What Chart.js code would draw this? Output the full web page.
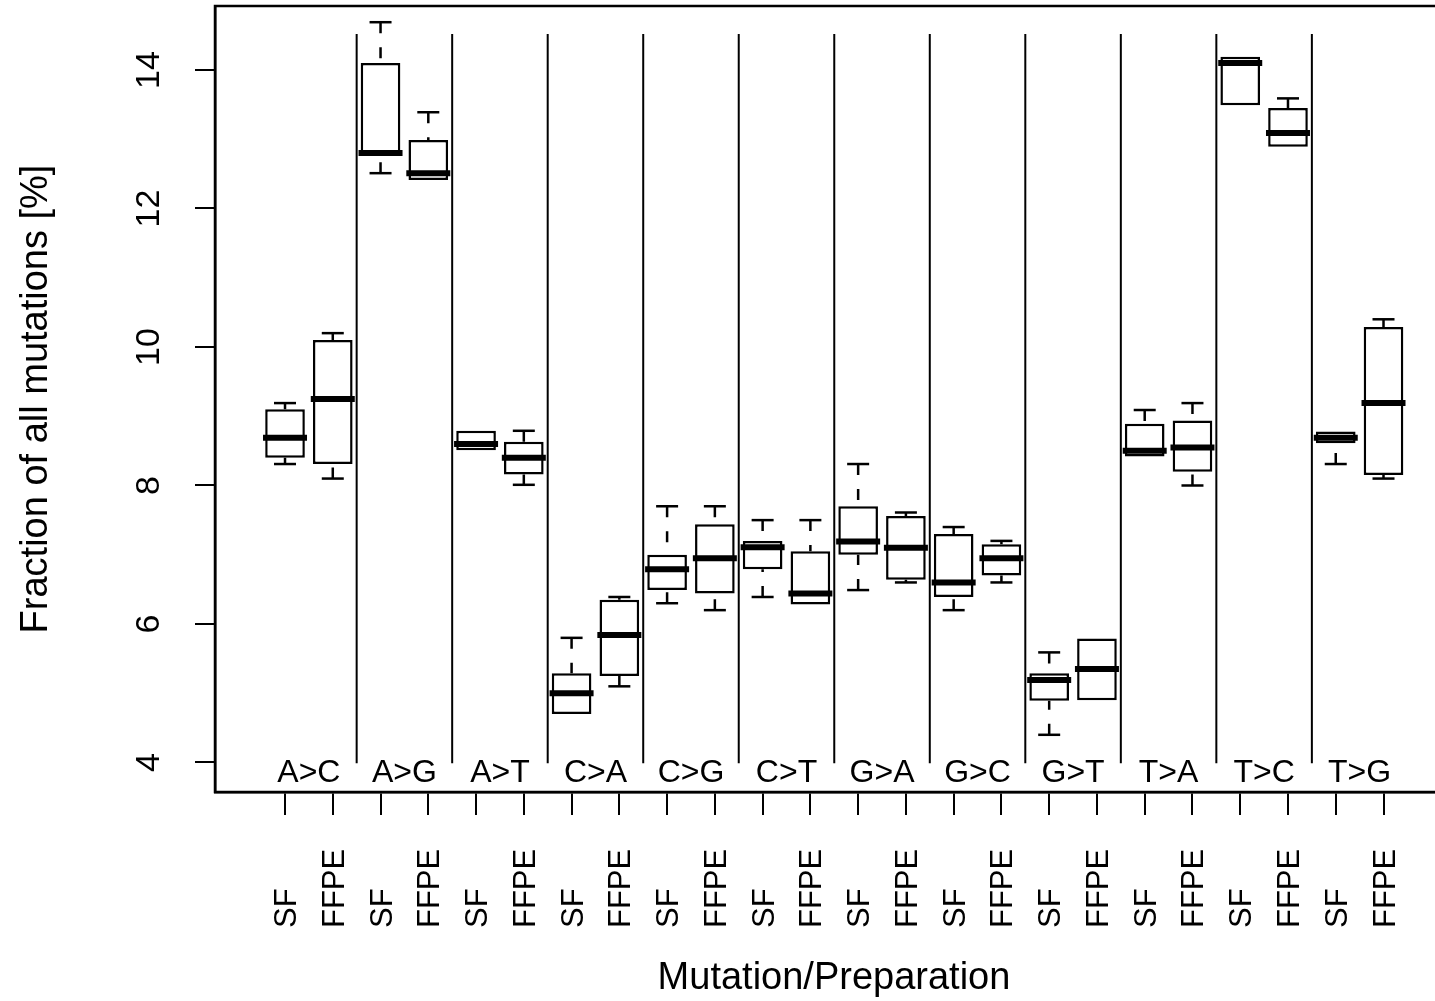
<!DOCTYPE html>
<html>
<head>
<meta charset="utf-8">
<title>Mutation fractions by preparation</title>
<script src="https://cdn.jsdelivr.net/npm/chart.js@4/dist/chart.umd.min.js"></script>
<style>
  html, body { margin: 0; padding: 0; background: #fff; overflow: hidden; }
  canvas { display: block; }
</style>
</head>
<body>
<canvas id="boxChart" width="1453" height="1001"></canvas>
<script>
// categories and tick labels
const mutations = ["A>C", "A>G", "A>T", "C>A", "C>G", "C>T", "G>A", "G>C", "G>T", "T>A", "T>C", "T>G"];
const preparations = ["SF", "FFPE"];
const yTicks = [4, 6, 8, 10, 12, 14];

// SF (fresh frozen) box stats
const sfMin = [8.31, 12.51, 8.51, 4.70, 6.30, 6.39, 6.49, 6.20, 4.40, 8.42, 13.49, 8.31];
const sfQ1  = [8.40, 12.80, 8.51, 4.70, 6.49, 6.79, 7.00, 6.39, 4.89, 8.42, 13.49, 8.61];
const sfMed = [8.69, 12.80, 8.60, 5.00, 6.79, 7.11, 7.19, 6.60, 5.19, 8.50, 14.10, 8.69];
const sfQ3  = [9.10, 14.10, 8.79, 5.29, 7.00, 7.20, 7.70, 7.30, 5.29, 8.89, 14.19, 8.78];
const sfMax = [9.19, 14.69, 8.79, 5.80, 7.70, 7.50, 8.31, 7.40, 5.59, 9.09, 14.19, 8.78];

// FFPE box stats
const ffpeMin = [8.10, 12.41, 8.01, 5.10, 6.20, 6.28, 6.60, 6.60, 4.90, 8.00, 12.89, 8.10];
const ffpeQ1  = [8.31, 12.41, 8.16, 5.25, 6.44, 6.28, 6.64, 6.70, 4.90, 8.20, 12.89, 8.15];
const ffpeMed = [9.25, 12.51, 8.40, 5.84, 6.95, 6.44, 7.10, 6.95, 5.35, 8.55, 13.09, 9.19];
const ffpeQ3  = [10.10, 12.99, 8.63, 6.35, 7.44, 7.05, 7.56, 7.15, 5.79, 8.94, 13.45, 10.29];
const ffpeMax = [10.20, 13.39, 8.79, 6.39, 7.70, 7.50, 7.61, 7.20, 5.79, 9.19, 13.59, 10.40];

const FONT = '"Liberation Sans", Arial, Helvetica, sans-serif';
const INK = "#000";

// one box per (mutation, preparation), at positions 0..23
var boxes = [];
mutations.forEach(function (m, g) {
  boxes.push({ pos: 2 * g, label: preparations[0], min: sfMin[g], q1: sfQ1[g], med: sfMed[g], q3: sfQ3[g], max: sfMax[g] });
  boxes.push({ pos: 2 * g + 1, label: preparations[1], min: ffpeMin[g], q1: ffpeQ1[g], med: ffpeMed[g], q3: ffpeQ3[g], max: ffpeMax[g] });
});

var boxData = boxes.map(function (b) { return { x: b.pos, y: [b.q1, b.q3] }; });
var medianData = boxes.map(function (b) { return { x: b.pos, y: b.med }; });

var capData = [];
var whiskerData = [];
boxes.forEach(function (b) {
  if (b.max - b.q3 > 0.005) {
    capData.push({ x: b.pos, y: b.max });
    whiskerData.push({ x: b.pos, y: b.max }, { x: b.pos, y: b.q3 }, { x: b.pos, y: null });
  }
  if (b.q1 - b.min > 0.005) {
    capData.push({ x: b.pos, y: b.min });
    whiskerData.push({ x: b.pos, y: b.min }, { x: b.pos, y: b.q1 }, { x: b.pos, y: null });
  }
});

// vertical separators between mutation groups
var dividerData = [];
for (var g = 0; g < mutations.length - 1; g++) {
  dividerData.push({ x: 2 * g + 1.5, y: 3.99 }, { x: 2 * g + 1.5, y: 14.52 }, { x: 2 * g + 1.5, y: null });
}

const textPlugin = {
  id: "rText",
  afterDraw: function (chart) {
    const ctx = chart.ctx;
    const x = chart.scales.x;
    const y = chart.scales.y;
    const area = chart.chartArea;
    ctx.save();
    ctx.fillStyle = INK;
    ctx.strokeStyle = INK;
    ctx.lineWidth = 2.5;
    ctx.strokeRect(area.left, area.top, area.right - area.left, area.bottom - area.top);

    // y tick labels, rotated like R's default
    ctx.font = "34px " + FONT;
    ctx.textAlign = "center";
    ctx.textBaseline = "alphabetic";
    yTicks.forEach(function (v) {
      ctx.save();
      ctx.translate(159, y.getPixelForValue(v));
      ctx.rotate(-Math.PI / 2);
      ctx.fillText(String(v), 0, 0);
      ctx.restore();
    });

    // y title
    ctx.font = "38px " + FONT;
    ctx.save();
    ctx.translate(47, (area.top + area.bottom) / 2);
    ctx.rotate(-Math.PI / 2);
    ctx.fillText("Fraction of all mutations [%]", 0, 0);
    ctx.restore();

    // mutation names inside the plot
    ctx.font = "32px " + FONT;
    mutations.forEach(function (m, g) {
      ctx.fillText(m, x.getPixelForValue(2 * g + 0.5), 782);
    });

    // SF / FFPE labels, vertical
    ctx.font = "31px " + FONT;
    ctx.textAlign = "left";
    boxes.forEach(function (b) {
      ctx.save();
      ctx.translate(x.getPixelForValue(b.pos) + 11, 928);
      ctx.rotate(-Math.PI / 2);
      ctx.fillText(b.label, 0, 0);
      ctx.restore();
    });

    // x title
    ctx.font = "38px " + FONT;
    ctx.textAlign = "center";
    ctx.fillText("Mutation/Preparation", (area.left + area.right) / 2, 989);
    ctx.restore();
  }
};

var ctx = document.getElementById("boxChart").getContext("2d");
var myChart = new Chart(ctx, {
  type: "bar",
  data: {
    datasets: [
      {
        type: "scatter",
        label: "median",
        data: medianData,
        pointStyle: "line",
        pointRadius: 22,
        pointHoverRadius: 22,
        pointBorderWidth: 6,
        pointBorderColor: "#000",
        pointBackgroundColor: "#000",
      },
      {
        type: "bar",
        label: "box",
        data: boxData,
        backgroundColor: "#fff",
        borderColor: INK,
        borderWidth: 2.5,
        borderSkipped: false,
        barPercentage: 0.83,
        categoryPercentage: 1,
        grouped: false,
      },
      {
        type: "scatter",
        label: "caps",
        data: capData,
        pointStyle: "line",
        pointRadius: 11,
        pointHoverRadius: 11,
        pointBorderWidth: 2.5,
        pointBorderColor: INK,
      },
      {
        type: "line",
        label: "whiskers",
        data: whiskerData,
        borderColor: INK,
        borderWidth: 2.5,
        borderDash: [11, 14],
        pointRadius: 0,
        spanGaps: false,
        tension: 0,
      },
      {
        type: "line",
        label: "dividers",
        data: dividerData,
        borderColor: INK,
        borderWidth: 2,
        pointRadius: 0,
        spanGaps: false,
        tension: 0,
      },
    ],
  },
  options: {
    responsive: false,
    animation: false,
    devicePixelRatio: 1,
    layout: { autoPadding: false, padding: { top: 6, left: 0, right: 0, bottom: 0 } },
    plugins: {
      legend: { display: false },
      tooltip: { enabled: false },
    },
    scales: {
      x: {
        type: "linear",
        offset: false,
        min: -1.466,
        max: 24.455,
        afterBuildTicks: function (s) {
          s.ticks = boxes.map(function (b) { return { value: b.pos }; });
        },
        afterFit: function (s) { s.height = 209; },
        ticks: { display: false },
        grid: { offset: false, drawOnChartArea: false, drawTicks: true, tickLength: 23, color: INK, lineWidth: 2 },
        border: { display: true, color: INK, width: 2.5 },
      },
      y: {
        type: "linear",
        min: 3.574,
        max: 14.924,
        afterBuildTicks: function (s) {
          s.ticks = yTicks.map(function (v) { return { value: v }; });
        },
        afterFit: function (s) { s.width = 215; },
        ticks: { display: false },
        grid: { drawOnChartArea: false, drawTicks: true, tickLength: 20, color: INK, lineWidth: 2 },
        border: { display: true, color: INK, width: 2.5 },
      },
    },
  },
  plugins: [textPlugin],
});
</script>
</body>
</html>
